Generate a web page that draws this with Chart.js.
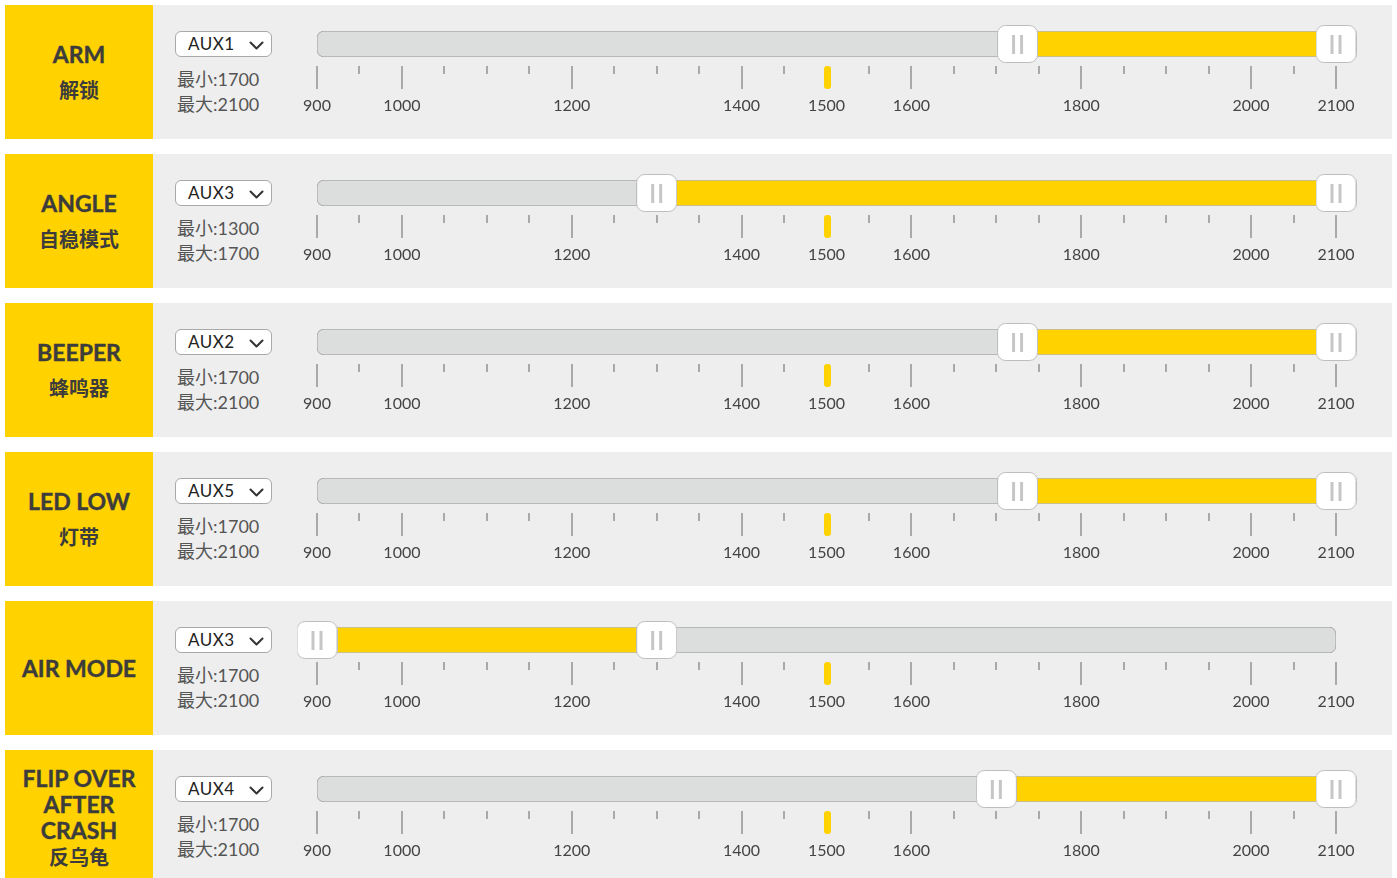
<!DOCTYPE html>
<html>
<head>
<meta charset="utf-8">
<script src="https://cdn.jsdelivr.net/npm/chart.js@4.4.1/dist/chart.umd.min.js"></script>
<style>
html,body{margin:0;padding:0;background:#ffffff;width:1397px;height:878px;overflow:hidden;font-family:Lato,"Noto Sans CJK SC",sans-serif;}
.row{position:absolute;left:5px;width:1387px;height:134px;background:#eeeeee;}
.tag{position:absolute;left:0;top:0;width:148px;height:134px;background:#FFD200;display:flex;flex-direction:column;justify-content:center;align-items:center;color:#3c3c3c;font-weight:700;text-align:center;}
.en{font-size:23px;line-height:26px;white-space:pre-line;font-family:Lato,"Noto Sans CJK SC",sans-serif;font-weight:700;-webkit-text-stroke:0.4px #3c3c3c;}
.zh{font-size:20px;line-height:26px;margin-top:10px;font-family:"Noto Sans CJK SC",sans-serif;font-weight:700;}
.tag.wrap .zh{margin-top:1px;}
.sel{position:absolute;left:170px;top:26px;width:95px;height:24px;border:1px solid #a9a9a9;border-radius:6px;background:#ffffff;box-sizing:content-box;}
.sel span{position:absolute;left:12px;top:0;line-height:24px;font-size:17px;color:#222;font-family:Lato,sans-serif;letter-spacing:0.5px;}
.sel svg{position:absolute;right:7px;top:9px;}
.mm{position:absolute;left:172px;top:62px;font-size:18px;line-height:25px;color:#555;font-family:Lato,"Noto Sans CJK SC",sans-serif;white-space:nowrap;}
canvas.slider{position:absolute;left:275px;top:0;}
</style>
</head>
<body>
<div id="root"></div>
<script>
// ---- data ----
const titlesEn = ['ARM', 'ANGLE', 'BEEPER', 'LED LOW', 'AIR MODE', 'FLIP OVER\nAFTER\nCRASH'];
const titlesZh = ['解锁', '自稳模式', '蜂鸣器', '灯带', '', '反乌龟'];
const channels = ['AUX1', 'AUX3', 'AUX2', 'AUX5', 'AUX3', 'AUX4'];
const minText = [1700, 1300, 1700, 1700, 1700, 1700];
const maxText = [2100, 1700, 2100, 2100, 2100, 2100];
const rangeLow = [1725, 1300, 1725, 1725, 900, 1700];
const rangeHigh = [2100, 2100, 2100, 2100, 1300, 2100];
const currentValue = [1500, 1500, 1500, 1500, 1500, 1500];
const axisMin = 900, axisMax = 2100;
const majorTicks = [900, 1000, 1200, 1400, 1600, 1800, 2000, 2100];
const minorTicks = [950, 1050, 1100, 1150, 1250, 1300, 1350, 1450, 1550, 1650, 1700, 1750, 1850, 1900, 1950, 2050];
const tickLabels = [900, 1000, 1200, 1400, 1500, 1600, 1800, 2000, 2100];

// ---- styles ----
const YELLOW = '#FFD200';
const ROW_PITCH = 149, ROW_TOP0 = 5;

// handle image (used as point style)
const handleImg = document.createElement('canvas');
handleImg.width = 41; handleImg.height = 38;
(function(){
  const c = handleImg.getContext('2d');
  c.beginPath();
  c.roundRect(0.5, 0.5, 40, 37, 8);
  c.fillStyle = '#ffffff'; c.fill();
  c.strokeStyle = '#bdbdbd'; c.lineWidth = 1; c.stroke();
  c.fillStyle = '#c6c6c6';
  c.fillRect(15, 10, 3, 19);
  c.fillRect(23, 10, 3, 19);
})();

const tickPlugin = {
  id: 'sliderTicks',
  afterDraw(chart, args, opts) {
    const ctx = chart.ctx;
    const bottom = chart.chartArea.bottom;
    const xs = chart.scales.x;
    ctx.save();
    ctx.fillStyle = '#a9a9a9';
    majorTicks.forEach(v => {
      const x = Math.round(xs.getPixelForValue(v));
      ctx.fillRect(x - 1, bottom + 9, 2, 23);
    });
    minorTicks.forEach(v => {
      const x = Math.round(xs.getPixelForValue(v));
      ctx.fillRect(x - 1, bottom + 9, 2, 8);
    });
    const mx = xs.getPixelForValue(opts.marker);
    ctx.fillStyle = YELLOW;
    ctx.beginPath();
    ctx.roundRect(Math.round(mx) - 3, bottom + 9, 7, 23, 3);
    ctx.fill();
    ctx.restore();
  }
};

const root = document.getElementById('root');
titlesEn.forEach((en, i) => {
  const row = document.createElement('div');
  row.className = 'row';
  row.style.top = (ROW_TOP0 + ROW_PITCH * i) + 'px';

  const tag = document.createElement('div');
  tag.className = 'tag' + (en.indexOf('\n') >= 0 ? ' wrap' : '');
  const enDiv = document.createElement('div');
  enDiv.className = 'en'; enDiv.textContent = en;
  tag.appendChild(enDiv);
  if (titlesZh[i]) {
    const zh = document.createElement('div');
    zh.className = 'zh'; zh.textContent = titlesZh[i];
    tag.appendChild(zh);
  }
  row.appendChild(tag);

  const sel = document.createElement('div');
  sel.className = 'sel';
  sel.innerHTML = '<span>' + channels[i] + '</span><svg width="15" height="9" viewBox="0 0 15 9"><polyline points="1.5,1.5 7.5,7.5 13.5,1.5" fill="none" stroke="#333" stroke-width="2" stroke-linecap="round" stroke-linejoin="round"/></svg>';
  row.appendChild(sel);

  const mm = document.createElement('div');
  mm.className = 'mm';
  mm.innerHTML = '最小:' + minText[i] + '<br>最大:' + maxText[i];
  row.appendChild(mm);

  const cv = document.createElement('canvas');
  cv.className = 'slider';
  cv.width = 1100; cv.height = 134;
  cv.style.width = '1100px'; cv.style.height = '134px';
  row.appendChild(cv);
  root.appendChild(row);

  new Chart(cv, {
    type: 'bar',
    data: {
      labels: ['range'],
      datasets: [
        {
          type: 'scatter',
          data: [{x: rangeLow[i], y: 'range'}, {x: rangeHigh[i], y: 'range'}],
          pointStyle: handleImg,
          pointRadius: 20,
          pointHoverRadius: 20,
          clip: false,
          order: 1
        },
        {
          data: [[rangeLow[i], rangeHigh[i]]],
          backgroundColor: YELLOW,
          borderWidth: 0,
          barThickness: 24,
          grouped: false,
          order: 2
        },
        {
          data: [[axisMin, axisMax]],
          backgroundColor: '#dcdddd',
          borderColor: '#acacac',
          borderWidth: 1,
          borderRadius: 7,
          borderSkipped: false,
          barThickness: 26,
          grouped: false,
          order: 3
        }
      ]
    },
    options: {
      indexAxis: 'y',
      responsive: false,
      animation: false,
      devicePixelRatio: 1,
      events: [],
      layout: {padding: {left: 37, right: 44, top: 26, bottom: 0}},
      plugins: {
        legend: {display: false},
        tooltip: {enabled: false},
        sliderTicks: {marker: currentValue[i]}
      },
      scales: {
        x: {
          type: 'linear',
          min: axisMin,
          max: axisMax,
          position: 'bottom',
          grid: {display: false, drawTicks: false},
          border: {display: false},
          afterBuildTicks: s => { s.ticks = tickLabels.map(v => ({value: v})); },
          afterFit: s => { s.height = 82; s.paddingLeft = 0; s.paddingRight = 0; },
          ticks: {
            autoSkip: false,
            maxRotation: 0,
            padding: 39,
            color: '#444444',
            font: {family: 'Lato', size: 16},
            callback: v => String(v)
          }
        },
        y: {type: 'category', display: false}
      }
    },
    plugins: [tickPlugin]
  });
});
</script>
</body>
</html>
